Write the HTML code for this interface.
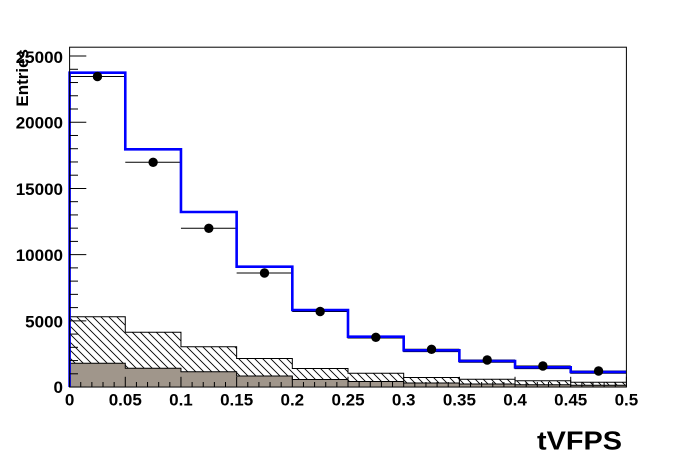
<!DOCTYPE html>
<html>
<head>
<meta charset="utf-8">
<style>
  html, body { margin:0; padding:0; background:#fff; }
  svg { display:block; }
  text { font-family: "Liberation Sans", Arial, sans-serif; font-weight: bold; fill:#000; }
</style>
</head>
<body>
<svg width="696" height="472" viewBox="0 0 696 472" xmlns="http://www.w3.org/2000/svg">
  <defs>
    <pattern id="hatch" patternUnits="userSpaceOnUse" width="8" height="8">
      <path d="M-2,-2 L10,10 M-2,6 L2,10 M6,-2 L10,2" stroke="#000" stroke-width="0.9" fill="none"/>
    </pattern>
  </defs>
  <rect x="0" y="0" width="696" height="472" fill="#fff"/>

  <!-- hatched stack component -->
  <path d="M69.6,387 V316.7 H125.28 V332.3 H180.96 V346.7 H236.64 V358.5 H292.32 V368.5 H348 V373.3 H403.68 V377.5 H459.36 V379.3 H515.04 V380.8 H570.72 V382.3 H626.4 V387 Z" fill="#fff"/>
  <path d="M69.6,387 V316.7 H125.28 V332.3 H180.96 V346.7 H236.64 V358.5 H292.32 V368.5 H348 V373.3 H403.68 V377.5 H459.36 V379.3 H515.04 V380.8 H570.72 V382.3 H626.4 V387 Z" fill="url(#hatch)"/>
  <path d="M69.6,387 V316.7 H125.28 V332.3 H180.96 V346.7 H236.64 V358.5 H292.32 V368.5 H348 V373.3 H403.68 V377.5 H459.36 V379.3 H515.04 V380.8 H570.72 V382.3 H626.4" fill="none" stroke="#000" stroke-width="1"/>

  <!-- gray stack component -->
  <path d="M69.6,387 V363.3 H125.28 V368.3 H180.96 V371.7 H236.64 V376 H292.32 V379.5 H348 V381.5 H403.68 V383 H459.36 V384 H515.04 V384.7 H570.72 V385.3 H626.4 V387 Z" fill="#a0968b"/>
  <path d="M69.6,363.3 H125.28 V368.3 H180.96 V371.7 H236.64 V376 H292.32 V379.5 H348 V381.5 H403.68 V383 H459.36 V384 H515.04 V384.7 H570.72 V385.3 H626.4" fill="none" stroke="#000" stroke-width="1"/>

  <!-- black total line under blue -->
  <path d="M292.32,311.4 H348 V338 H403.68 V351.6 H459.36 V362.3 H515.04 V368.6 H570.72 V373.3 H626.4" fill="none" stroke="#000" stroke-width="1"/>

  <!-- data error bars -->
  <g stroke="#000" stroke-width="1">
    <line x1="69.6" y1="76.5" x2="125.28" y2="76.5"/>
    <line x1="125.28" y1="162.3" x2="180.96" y2="162.3"/>
    <line x1="180.96" y1="228.3" x2="236.64" y2="228.3"/>
    <line x1="236.64" y1="273" x2="292.32" y2="273"/>
    <line x1="292.32" y1="311.5" x2="348" y2="311.5"/>
    <line x1="348" y1="337.3" x2="403.68" y2="337.3"/>
    <line x1="403.68" y1="349.3" x2="459.36" y2="349.3"/>
    <line x1="459.36" y1="360" x2="515.04" y2="360"/>
    <line x1="515.04" y1="366" x2="570.72" y2="366"/>
    <line x1="570.72" y1="371" x2="626.4" y2="371"/>
  </g>

  <!-- blue histogram -->
  <path d="M69.6,387 V72.7 H125.28 V149.3 H180.96 V212 H236.64 V266.7 H292.32 V310 H348 V336.7 H403.68 V350.3 H459.36 V361 H515.04 V367.3 H570.72 V372 H626.4" fill="none" stroke="#0000ff" stroke-width="2.6"/>

  <!-- data markers -->
  <g fill="#000">
    <circle cx="97.44" cy="76.5" r="4.7"/>
    <circle cx="153.12" cy="162.3" r="4.7"/>
    <circle cx="208.8" cy="228.3" r="4.7"/>
    <circle cx="264.48" cy="273" r="4.7"/>
    <circle cx="320.16" cy="311.5" r="4.7"/>
    <circle cx="375.84" cy="337.3" r="4.7"/>
    <circle cx="431.52" cy="349.3" r="4.7"/>
    <circle cx="487.2" cy="360" r="4.7"/>
    <circle cx="542.88" cy="366" r="4.7"/>
    <circle cx="598.56" cy="371" r="4.7"/>
  </g>

  <!-- frame -->
  <rect x="69.6" y="47.2" width="556.8" height="339.84" fill="none" stroke="#000" stroke-width="1"/>

  <g stroke="#000" stroke-width="1">
    <!-- y major -->
    <line x1="69.6" y1="387.04" x2="86.3" y2="387.04"/>
    <line x1="69.6" y1="320.84" x2="86.3" y2="320.84"/>
    <line x1="69.6" y1="254.64" x2="86.3" y2="254.64"/>
    <line x1="69.6" y1="188.44" x2="86.3" y2="188.44"/>
    <line x1="69.6" y1="122.24" x2="86.3" y2="122.24"/>
    <line x1="69.6" y1="56.04" x2="86.3" y2="56.04"/>
    <!-- y minor -->
    <line x1="69.6" y1="373.8" x2="78" y2="373.8"/><line x1="69.6" y1="360.56" x2="78" y2="360.56"/><line x1="69.6" y1="347.32" x2="78" y2="347.32"/><line x1="69.6" y1="334.08" x2="78" y2="334.08"/>
    <line x1="69.6" y1="307.6" x2="78" y2="307.6"/><line x1="69.6" y1="294.36" x2="78" y2="294.36"/><line x1="69.6" y1="281.12" x2="78" y2="281.12"/><line x1="69.6" y1="267.88" x2="78" y2="267.88"/>
    <line x1="69.6" y1="241.4" x2="78" y2="241.4"/><line x1="69.6" y1="228.16" x2="78" y2="228.16"/><line x1="69.6" y1="214.92" x2="78" y2="214.92"/><line x1="69.6" y1="201.68" x2="78" y2="201.68"/>
    <line x1="69.6" y1="175.2" x2="78" y2="175.2"/><line x1="69.6" y1="161.96" x2="78" y2="161.96"/><line x1="69.6" y1="148.72" x2="78" y2="148.72"/><line x1="69.6" y1="135.48" x2="78" y2="135.48"/>
    <line x1="69.6" y1="109" x2="78" y2="109"/><line x1="69.6" y1="95.76" x2="78" y2="95.76"/><line x1="69.6" y1="82.52" x2="78" y2="82.52"/><line x1="69.6" y1="69.28" x2="78" y2="69.28"/>
  </g>

  <g stroke="#000" stroke-width="1">
    <!-- x major -->
    <line x1="69.6" y1="387" x2="69.6" y2="376.8"/>
    <line x1="125.28" y1="387" x2="125.28" y2="376.8"/>
    <line x1="180.96" y1="387" x2="180.96" y2="376.8"/>
    <line x1="236.64" y1="387" x2="236.64" y2="376.8"/>
    <line x1="292.32" y1="387" x2="292.32" y2="376.8"/>
    <line x1="348" y1="387" x2="348" y2="376.8"/>
    <line x1="403.68" y1="387" x2="403.68" y2="376.8"/>
    <line x1="459.36" y1="387" x2="459.36" y2="376.8"/>
    <line x1="515.04" y1="387" x2="515.04" y2="376.8"/>
    <line x1="570.72" y1="387" x2="570.72" y2="376.8"/>
    <line x1="626.4" y1="387" x2="626.4" y2="376.8"/>
    <!-- x minor -->
    <path d="M80.74,387V382M91.87,387V382M103.01,387V382M114.14,387V382
             M136.42,387V382M147.55,387V382M158.69,387V382M169.82,387V382
             M192.1,387V382M203.23,387V382M214.37,387V382M225.5,387V382
             M247.78,387V382M258.91,387V382M270.05,387V382M281.18,387V382
             M303.46,387V382M314.59,387V382M325.73,387V382M336.86,387V382
             M359.14,387V382M370.27,387V382M381.41,387V382M392.54,387V382
             M414.82,387V382M425.95,387V382M437.09,387V382M448.22,387V382
             M470.5,387V382M481.63,387V382M492.77,387V382M503.9,387V382
             M526.18,387V382M537.31,387V382M548.45,387V382M559.58,387V382
             M581.86,387V382M592.99,387V382M604.13,387V382M615.26,387V382" fill="none"/>
  </g>

  <!-- y labels -->
  <g font-size="17" text-anchor="end">
    <text x="63" y="393">0</text>
    <text x="63" y="327.3">5000</text>
    <text x="63" y="261.1">10000</text>
    <text x="63" y="194.9">15000</text>
    <text x="63" y="128.7">20000</text>
    <text x="63" y="62.8">25000</text>
  </g>

  <!-- y title -->
  <text x="28" y="49" font-size="17" text-anchor="end" transform="rotate(-90 28 49)">Entries</text>

  <!-- x labels -->
  <g font-size="17" text-anchor="middle">
    <text x="69.6" y="405.5">0</text>
    <text x="125.28" y="405.5">0.05</text>
    <text x="180.96" y="405.5">0.1</text>
    <text x="236.64" y="405.5">0.15</text>
    <text x="292.32" y="405.5">0.2</text>
    <text x="348" y="405.5">0.25</text>
    <text x="403.68" y="405.5">0.3</text>
    <text x="459.36" y="405.5">0.35</text>
    <text x="515.04" y="405.5">0.4</text>
    <text x="570.72" y="405.5">0.45</text>
    <text x="626.4" y="405.5">0.5</text>
  </g>

  <!-- x title -->
  <text x="622" y="449.5" font-size="26" text-anchor="end" textLength="85" lengthAdjust="spacingAndGlyphs">tVFPS</text>
</svg>
</body>
</html>
